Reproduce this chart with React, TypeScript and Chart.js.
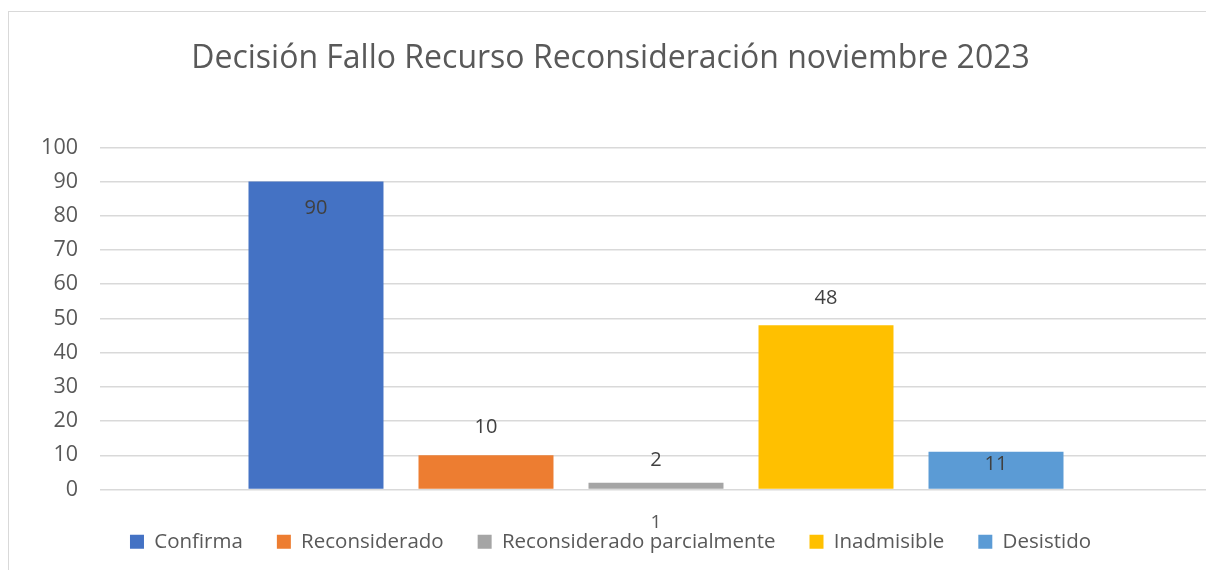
import React, { useEffect, useRef } from "react";
import { Chart, registerables } from "chart.js";

Chart.register(...registerables);

const TITLE = "Decisión Fallo Recurso Reconsideración noviembre 2023";
const CATEGORIES = ["1"];
const SERIES_NAMES = ["Confirma", "Reconsiderado", "Reconsiderado parcialmente", "Inadmisible", "Desistido"];
const SERIES_VALUES = [90, 10, 2, 48, 11];
const SERIES_COLORS = ["#4472C4", "#ED7D31", "#A5A5A5", "#FFC000", "#5B9BD5"];
// label offset from bar top (negative = above the bar, positive = inside)
const LABEL_OFFSETS = [27, -28, -22, -27, 12];
const Y_MIN = 0;
const Y_MAX = 100;
const Y_STEP = 10;

const FONT = "'Open Sans', 'Noto Sans', sans-serif";
const TEXT = "#595959";

const labelPlugin = {
  id: "barLabels",
  afterDatasetsDraw(chart: any) {
    const ctx = chart.ctx;
    ctx.save();
    ctx.font = `20px ${FONT}`;
    ctx.fillStyle = "#404040";
    ctx.textAlign = "center";
    ctx.textBaseline = "middle";
    chart.data.datasets.forEach((ds: any, i: number) => {
      const meta = chart.getDatasetMeta(i);
      meta.data.forEach((bar: any, j: number) => {
        ctx.fillText(String(ds.data[j]), bar.x, bar.y + LABEL_OFFSETS[i]);
      });
    });
    // category tick labels, positioned through the x scale
    const xs = chart.scales.x;
    ctx.font = `19px ${FONT}`;
    ctx.fillStyle = TEXT;
    (chart.data.labels as string[]).forEach((lab: string, i: number) => {
      ctx.fillText(lab, xs.getPixelForTick(i), chart.chartArea.bottom + 33);
    });
    ctx.restore();
  },
};

export default function App() {
  const ref = useRef<HTMLCanvasElement | null>(null);
  useEffect(() => {
    if (!ref.current) return;
    const chart = new Chart(ref.current, {
      type: "bar",
      data: {
        labels: CATEGORIES,
        datasets: SERIES_NAMES.map((name, i) => ({
          label: name,
          data: [SERIES_VALUES[i]],
          backgroundColor: SERIES_COLORS[i],
          borderWidth: 0,
          categoryPercentage: 0.7644,
          barPercentage: 0.794,
        })),
      },
      options: {
        responsive: false,
        animation: false,
        maintainAspectRatio: false,
        layout: { padding: { left: 0, right: 0, top: 0, bottom: 8 } },
        plugins: {
          title: {
            display: true,
            text: TITLE,
            color: TEXT,
            font: { family: FONT, size: 32, weight: "normal", lineHeight: 1.2 },
            padding: { top: 28, bottom: 69 },
          },
          legend: {
            display: true,
            position: "bottom",
            labels: {
              color: TEXT,
              font: { family: FONT, size: 20.5 },
              boxWidth: 14,
              boxHeight: 14,
              padding: 34,
            },
          },
          tooltip: { enabled: false },
        },
        scales: {
          x: {
            grid: { display: false, drawTicks: false },
            border: { display: false },
            ticks: { display: false },
            afterFit: (s: any) => {
              s.height = 8;
            },
          },
          y: {
            min: Y_MIN,
            max: Y_MAX,
            grid: { color: "#D9D9D9", lineWidth: 1.5, drawTicks: false },
            border: { display: false },
            ticks: {
              stepSize: Y_STEP,
              color: TEXT,
              font: { family: FONT, size: 21.5 },
              padding: 22,
            },
            afterFit: (s: any) => {
              s.width = 91;
            },
          },
        },
      },
      plugins: [labelPlugin],
    });
    return () => chart.destroy();
  }, []);

  return (
    <div style={{ position: "fixed", inset: 0, overflow: "hidden", background: "#fff" }}>
      <div
        style={{
          position: "absolute",
          left: 8,
          top: 11,
          width: 1230,
          height: 600,
          borderLeft: "1px solid #D9D9D9",
          borderTop: "1px solid #D9D9D9",
          background: "#fff",
        }}
      >
        <canvas ref={ref} width={1203} height={558} style={{ display: "block", width: 1203, height: 558 }} />
      </div>
    </div>
  );
}
